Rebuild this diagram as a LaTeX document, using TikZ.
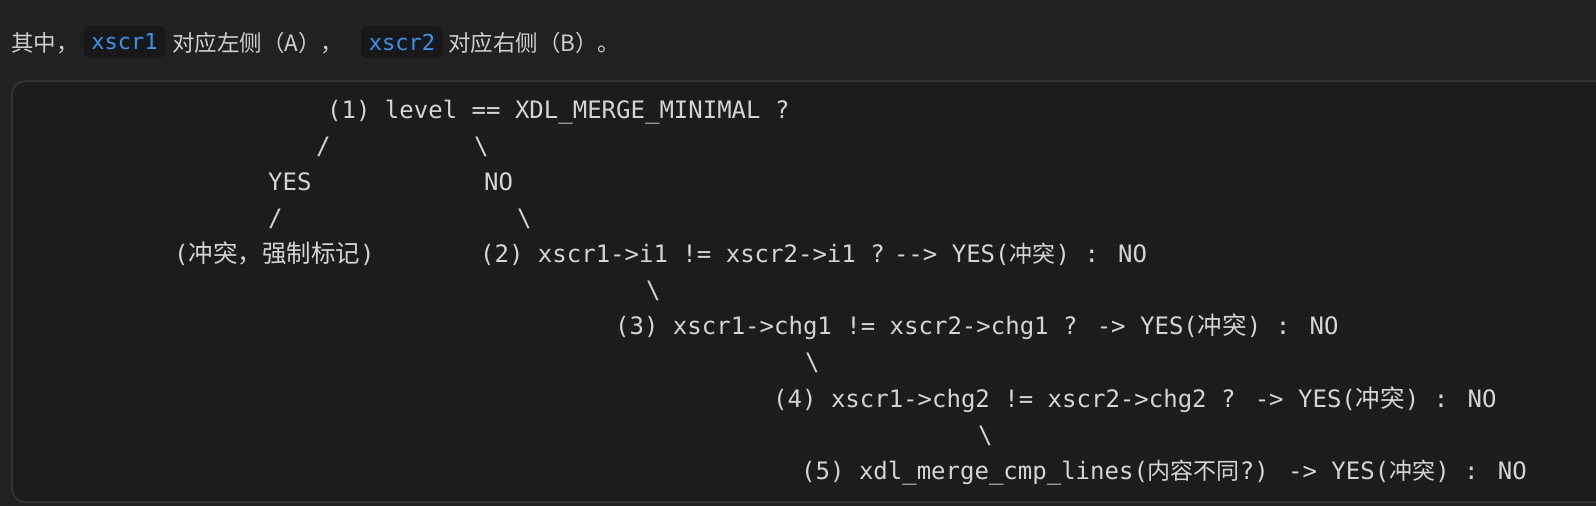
\documentclass[tikz,border=0pt]{standalone}
\usepackage{fontspec}
\setmainfont{Noto Sans CJK SC}
\newfontfamily\codefont{DejaVu Sans Mono}
\newfontfamily\cjk{Noto Sans CJK SC}
\definecolor{pagebg}{HTML}{212121}
\definecolor{blockbg}{HTML}{1C1C1C}
\definecolor{blockbd}{HTML}{323232}
\definecolor{chipbg}{HTML}{181818}
\definecolor{chipfg}{HTML}{3A92F0}
\definecolor{bodyfg}{HTML}{CFCFCF}
\definecolor{codefg}{HTML}{D4D4D4}
\newcommand\cj[1]{{\cjk\fontsize{24.5}{36}\selectfont #1}}
\newcommand\cjs[1]{{\cjk\fontsize{23}{36}\selectfont #1}}
\tikzset{
  code/.style={anchor=base west, inner sep=0pt, text=codefg, font=\codefont\fontsize{24}{36}\selectfont},
  body/.style={anchor=base west, inner sep=0pt, text=bodyfg, font=\fontsize{22.5}{30}\selectfont},
  chip/.style={fill=chipbg, rounded corners=7pt, text=chipfg, minimum width=82pt, minimum height=32pt, inner sep=0pt, font=\codefont\fontsize{22}{26}\selectfont}
}
\begin{document}
\begin{tikzpicture}[x=1pt,y=-1pt]
\useasboundingbox (0,0) rectangle (1596,506);
\clip (0,0) rectangle (1596,506);
\fill[pagebg] (0,0) rectangle (1596,506);
% top sentence
\node[body] (t1) at (11,51) {其中，};
\node[chip] (c1) at (124.5,42) {xscr1};
\node[body] (t2) at (172,51) {对应左侧（A），};
\node[chip] (c2) at (402,42) {xscr2};
\node[body] (t3) at (448,51) {对应右侧（B）。};
% code block
\draw[blockbd, fill=blockbg, line width=2pt, rounded corners=13pt] (12,81) rectangle (1650,502);
\node[code] (l1) at (327,118) {(1) level == XDL\_MERGE\_MINIMAL ?};
\node[code] (s2a) at (316,154) {/};
\node[code] (s2b) at (474,154) {\textbackslash};
\node[code] (yes) at (268,190) {YES};
\node[code] (no) at (484,190) {NO};
\node[code] (s4a) at (268,226) {/};
\node[code] (s4b) at (517,226) {\textbackslash};
\node[code] (conf) at (174,262) {(\cj{冲突，强制标记})};
\node[code] (l2) at (480,262) {(2) xscr1->i1 != xscr2->i1 ?\kern-10pt{} -\kern0pt-> YES(\cjs{冲突}) : NO};
\node[code] (s6) at (646,298) {\textbackslash};
\node[code] (l3) at (615,334) {(3) xscr1->chg1 != xscr2->chg1 ? -> YES(\cj{冲突}) : NO};
\node[code] (s8) at (805,370) {\textbackslash};
\node[code] (l4) at (773,407) {(4) xscr1->chg2 != xscr2->chg2 ? -> YES(\cj{冲突}) : NO};
\node[code] (s10) at (978,443) {\textbackslash};
\node[code] (l5) at (801,479) {(5) xdl\_merge\_cmp\_lines(\cjs{内容不同}?) -> YES(\cjs{冲突}) : NO};
\end{tikzpicture}
\end{document}
